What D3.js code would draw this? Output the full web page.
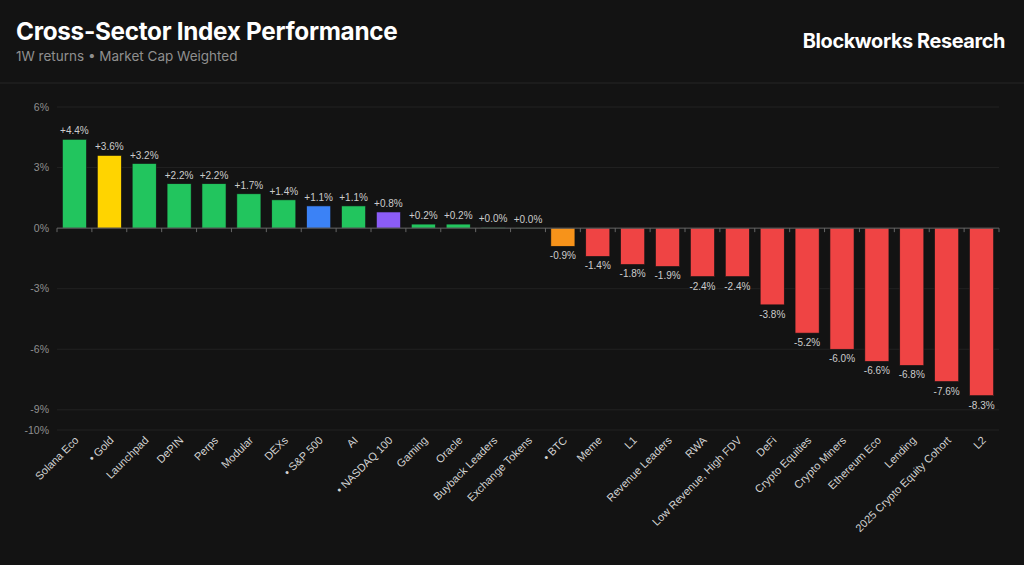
<!DOCTYPE html>
<html>
<head>
<meta charset="utf-8">
<script src="https://cdn.jsdelivr.net/npm/d3@7"></script>
<style>
  html, body { margin: 0; padding: 0; background: #131313; }
  svg { display: block; font-family: Inter, "Noto Sans", sans-serif; }
</style>
</head>
<body>
<div class="chart"></div>
<script>
// index names, left to right (benchmarks get a bullet)
const sectors = ['Solana Eco', 'Gold', 'Launchpad', 'DePIN', 'Perps', 'Modular', 'DEXs', 'S&P 500', 'AI',
  'NASDAQ 100', 'Gaming', 'Oracle', 'Buyback Leaders', 'Exchange Tokens', 'BTC', 'Meme', 'L1',
  'Revenue Leaders', 'RWA', 'Low Revenue, High FDV', 'DeFi', 'Crypto Equities', 'Crypto Miners',
  'Ethereum Eco', 'Lending', '2025 Crypto Equity Cohort', 'L2'];
// 1W return, percent
const returns1w = [4.4, 3.6, 3.2, 2.2, 2.2, 1.7, 1.4, 1.1, 1.1, 0.8, 0.2, 0.2, 0.04, 0.01,
  -0.9, -1.4, -1.8, -1.9, -2.4, -2.4, -3.8, -5.2, -6.0, -6.6, -6.8, -7.6, -8.3];
const benchmarks = ['Gold', 'S&P 500', 'NASDAQ 100', 'BTC'];
const benchColors = { 'Gold': '#ffd400', 'S&P 500': '#3b82f6', 'NASDAQ 100': '#8b5cf6', 'BTC': '#f7931a' };
const yTicks = [6, 3, 0, -3, -6, -9, -10];

const W = 1024, H = 565;
const margin = { left: 57, right: 25, top: 107, bottom: 135 };
const labelFont = '"Liberation Sans", Arial, sans-serif';

const svg = d3.select('div.chart').append('svg')
  .attr('width', W).attr('height', H);

svg.append('rect').attr('width', W).attr('height', H).attr('fill', '#131313');

// header
svg.append('text').attr('x', 16).attr('y', 40)
  .attr('fill', '#fff').attr('font-size', 24.3).attr('font-weight', 700)
  .attr('letter-spacing', -0.3)
  .text('Cross-Sector Index Performance');
svg.append('text').attr('x', 16).attr('y', 61)
  .attr('fill', '#8f8f8f').attr('font-size', 13.5)
  .text('1W returns \u2022 Market Cap Weighted');
svg.append('text').attr('x', 1005).attr('y', 48)
  .attr('text-anchor', 'end')
  .attr('fill', '#fff').attr('font-size', 19.9).attr('font-weight', 700)
  .attr('letter-spacing', -0.4)
  .text('Blockworks Research');
svg.append('line').attr('x1', 0).attr('x2', W).attr('y1', 83).attr('y2', 83)
  .attr('stroke', '#262626');

const x = d3.scaleBand()
  .domain(sectors)
  .range([margin.left, 999])
  .paddingInner(0.31).paddingOuter(0.155);

const y = d3.scaleLinear()
  .domain([-10, 6])
  .range([430, 107]);

// gridlines
svg.append('g')
  .selectAll('line')
  .data(yTicks.filter(d => d !== 0))
  .join('line')
    .attr('x1', margin.left).attr('x2', 999)
    .attr('y1', d => y(d)).attr('y2', d => y(d))
    .attr('stroke', '#222');

// y tick labels
svg.append('g')
  .selectAll('text')
  .data(yTicks)
  .join('text')
    .attr('x', 49).attr('y', d => y(d))
    .attr('dy', '0.35em')
    .attr('text-anchor', 'end')
    .attr('fill', '#8f8f8f').attr('font-size', 10.5)
    .attr('font-family', labelFont)
    .text(d => d + '%');

// x axis ticks at band edges
const edges = sectors.map(s => x(s) - x.step() * x.paddingInner() / 2);
edges.push(999);
svg.append('g')
  .selectAll('line')
  .data(edges)
  .join('line')
    .attr('x1', d => d).attr('x2', d => d)
    .attr('y1', y(0)).attr('y2', y(0) + 4)
    .attr('stroke', '#666');

function barColor(name, v) {
  if (benchColors[name]) return benchColors[name];
  return v >= 0 ? '#22c55e' : '#ef4444';
}

const data = sectors.map((s, i) => ({ name: s, value: returns1w[i] }));

svg.append('g')
  .selectAll('rect')
  .data(data)
  .join('rect')
    .attr('x', d => x(d.name))
    .attr('width', x.bandwidth())
    .attr('y', d => y(Math.max(0, d.value)))
    .attr('height', d => Math.abs(y(d.value) - y(0)))
    .attr('fill', d => barColor(d.name, d.value))
    .attr('stroke', '#151515').attr('stroke-width', 0.6);

// zero axis line
svg.append('line')
  .attr('x1', margin.left).attr('x2', 999)
  .attr('y1', y(0)).attr('y2', y(0))
  .attr('stroke', '#666');

// value labels
svg.append('g')
  .selectAll('text')
  .data(data)
  .join('text')
    .attr('x', d => x(d.name) + x.bandwidth() / 2)
    .attr('y', d => d.value >= 0 ? y(d.value) - 5 : y(d.value) + 13)
    .attr('text-anchor', 'middle')
    .attr('fill', '#cccccc').attr('font-size', 10)
    .attr('font-family', labelFont)
    .text(d => (d.value >= 0 ? '+' : '') + d.value.toFixed(1) + '%');

// category labels
svg.append('g')
  .selectAll('text')
  .data(sectors)
  .join('text')
    .attr('transform', d => `translate(${x(d) + x.bandwidth() / 2 + 5},${441}) rotate(-45)`)
    .attr('text-anchor', 'end')
    .attr('fill', '#d2d2d2').attr('font-size', 11)
    .attr('font-family', labelFont)
    .text(d => benchmarks.includes(d) ? '\u2022 ' + d : d);
</script>
</body>
</html>
